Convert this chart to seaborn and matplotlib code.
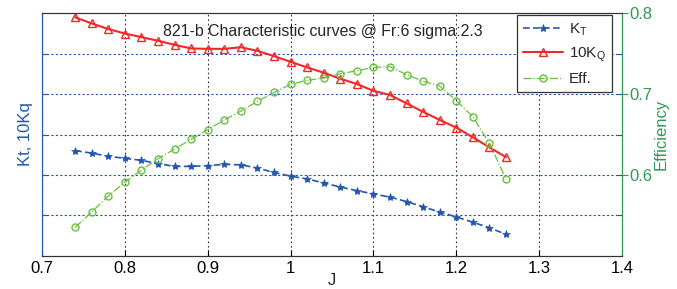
import numpy as np
import pandas as pd
import matplotlib
matplotlib.use("Agg")
import matplotlib.pyplot as plt
import seaborn as sns

# ---- data ----
J = [0.74, 0.76, 0.78, 0.80, 0.82, 0.84, 0.86, 0.88, 0.90, 0.92, 0.94, 0.96, 0.98,
     1.00, 1.02, 1.04, 1.06, 1.08, 1.10, 1.12, 1.14, 1.16, 1.18, 1.20, 1.22, 1.24, 1.26]
KT = [0.360, 0.354, 0.346, 0.341, 0.336, 0.328, 0.321, 0.321, 0.323, 0.326, 0.325, 0.317, 0.306,
      0.297, 0.290, 0.280, 0.270, 0.261, 0.253, 0.245, 0.234, 0.221, 0.208, 0.196, 0.183, 0.169, 0.153]
KQ10 = [0.690, 0.675, 0.661, 0.650, 0.641, 0.632, 0.622, 0.613, 0.612, 0.612, 0.616, 0.607, 0.594,
        0.580, 0.566, 0.553, 0.538, 0.525, 0.508, 0.498, 0.477, 0.456, 0.436, 0.417, 0.393, 0.368, 0.344]
EFF = [0.535, 0.554, 0.574, 0.591, 0.606, 0.620, 0.632, 0.644, 0.656, 0.668, 0.679, 0.691, 0.702,
       0.712, 0.717, 0.720, 0.725, 0.729, 0.733, 0.734, 0.724, 0.716, 0.710, 0.692, 0.672, 0.639, 0.595]
x_ticks = [0.7, 0.8, 0.9, 1.0, 1.1, 1.2, 1.3, 1.4]
x_tick_labels = ["0.7", "0.8", "0.9", "1", "1.1", "1.2", "1.3", "1.4"]
left_ticks = [0.2, 0.3, 0.4, 0.5, 0.6]
right_ticks = [0.6, 0.7, 0.8]
right_tick_labels = ["0.6", "0.7", "0.8"]
title = "821-b Characteristic curves @ Fr:6 sigma:2.3"

df = pd.DataFrame({"J": J, "KT": KT, "KQ10": KQ10, "EFF": EFF})

sns.set_style("ticks")
plt.rcParams["font.family"] = ["Liberation Sans", "DejaVu Sans"]

BLUE = "#2456b0"
RED = "#f02828"
GREEN = "#66c040"
GREEN_AX = "#2f9a55"

fig = plt.figure(figsize=(6.77, 2.89), dpi=100)
ax1 = fig.add_axes([42 / 677, 1 - 255.7 / 289, 580 / 677, 242.4 / 289])
ax2 = ax1.twinx()

sns.lineplot(data=df, x="J", y="KT", ax=ax1, color=BLUE, linestyle=(0, (4, 2)), lw=1.2,
             marker="*", markersize=6, markeredgewidth=0.5, markeredgecolor=BLUE,
             label="K$_\\mathregular{T}$", legend=False)
sns.lineplot(data=df, x="J", y="KQ10", ax=ax1, color=RED, linestyle="-", lw=1.5,
             marker="^", markersize=6, markerfacecolor="none", markeredgecolor=RED,
             markeredgewidth=1.0, label="10K$_\\mathregular{Q}$", legend=False)
sns.lineplot(data=df, x="J", y="EFF", ax=ax2, color=GREEN, linestyle="-.", lw=0.9,
             marker="o", markersize=5, markerfacecolor="none", markeredgecolor=GREEN,
             markeredgewidth=1.0, label="Eff.", legend=False)

ax1.set_xlim(0.7, 1.4)
ax1.set_ylim(0.1, 0.7)
ax2.set_ylim(0.5, 0.8)
ax1.set_xticks(x_ticks)
ax1.set_xticklabels(x_tick_labels)
ax1.set_yticks(left_ticks)
ax1.set_yticklabels([])
ax2.set_yticks(right_ticks)
ax2.set_yticklabels(right_tick_labels)

ax1.grid(True, axis="x", color="#333333", linestyle=(0, (1.5, 2.5)), lw=0.8)
ax1.grid(True, axis="y", color=BLUE, linestyle=(0, (2, 2)), lw=0.8)
ax2.grid(False)

ax1.tick_params(axis="x", direction="in", length=4, labelsize=12, colors="black", top=False)
ax1.tick_params(axis="y", direction="in", length=4, colors=BLUE, left=True, right=True)
ax2.tick_params(axis="y", direction="out", length=4, colors=GREEN_AX, labelsize=12, pad=1)

for s in ["top", "bottom"]:
    ax1.spines[s].set_color("#333333")
ax1.spines["left"].set_color(BLUE)
ax2.spines["left"].set_color(BLUE)
ax2.spines["right"].set_color(GREEN_AX)
ax1.spines["right"].set_color(GREEN_AX)
ax2.spines["top"].set_color("#333333")
ax2.spines["bottom"].set_color("#333333")

ax1.set_xlabel("J", fontsize=12, labelpad=-2)
ax1.set_ylabel("Kt, 10Kq", fontsize=12, color=BLUE, labelpad=3)
ax2.set_ylabel("Efficiency", fontsize=12, color=GREEN_AX, labelpad=1)

ax1.text(0.485, 0.955, title, transform=ax1.transAxes, ha="center", va="top", fontsize=11.4)

h1, l1 = ax1.get_legend_handles_labels()
h2, l2 = ax2.get_legend_handles_labels()
leg = ax2.legend(h1 + h2, l1 + l2, loc="upper right",
                 bbox_to_anchor=(1 - 10 / 580, 1 - 2 / 242.4), borderaxespad=0,
                 fontsize=11, frameon=True, fancybox=False, framealpha=1,
                 edgecolor="#333333", handlelength=2.6, handletextpad=0.4,
                 labelspacing=0.5, borderpad=0.4)
leg.get_frame().set_linewidth(0.9)

fig.savefig("out.png", dpi=100)
